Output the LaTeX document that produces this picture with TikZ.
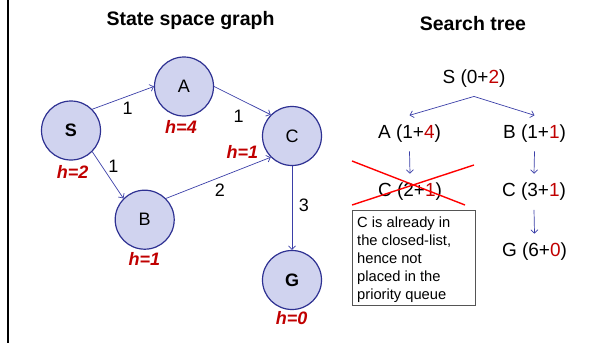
\documentclass[tikz,border=0pt]{standalone}
\usepackage{fontspec}
\setmainfont{Liberation Sans}
\usetikzlibrary{arrows.meta}
\definecolor{nodefill}{HTML}{D0D3EF}
\definecolor{nodeline}{HTML}{2E3192}
\definecolor{edgecol}{HTML}{3B3FA8}
\definecolor{hred}{HTML}{C00000}
\definecolor{boxgray}{HTML}{555555}
\begin{document}
\begin{tikzpicture}[x=1pt,y=-1pt,
  state/.style={circle, draw=nodeline, line width=1.2pt, fill=nodefill, minimum size=59pt, inner sep=0pt, font=\fontsize{18}{21}\selectfont},
  hlab/.style={text=hred, font=\fontsize{18}{21}\selectfont\bfseries\itshape, inner sep=0pt},
  elab/.style={font=\fontsize{18}{21}\selectfont, inner sep=0pt},
  edge/.style={draw=edgecol, line width=0.7pt, -{Straight Barb[length=3.5pt,width=7pt]}},
  titletext/.style={font=\fontsize{19.5}{23}\selectfont\bfseries, anchor=base, inner sep=0pt},
  treetext/.style={font=\fontsize{19}{23}\selectfont, anchor=base, inner xsep=0pt, inner ysep=9pt},
  cross/.style={draw=red, line width=1.4pt}
]
\useasboundingbox (0,0) rectangle (591,343);
\draw[line width=2.3pt] (7.8,0) -- (7.8,343);

% titles
\node[titletext] (t1) at (190.5,25.5) {State space graph};
\node[titletext] (t2) at (473,30.5) {Search tree};

% state space graph
\node[state] (S) at (71,130.5) {\bfseries S};
\node[state] (A) at (184,86.5) {A};
\node[state] (C) at (292,136) {C};
\node[state] (B) at (144.7,219.7) {B};
\node[state] (G) at (292,280) {\bfseries G};

\draw[edge] (S.45) -- (A.west);
\draw[edge] (A.east) -- (C.135);
\draw[edge] (S.-45) -- (B.135);
\draw[edge] (B.45) -- (C.-135);
\draw[edge] (C.south) -- (G.north);

\node[elab] (l1) at (127.7,108.3) {1};
\node[elab] (l2) at (238.7,116) {1};
\node[elab] (l3) at (113.3,166.7) {1};
\node[elab] (l4) at (220,190.7) {2};
\node[elab] (l5) at (304,205.5) {3};

\node[hlab] (hS) at (72.7,171.7) {h=2};
\node[hlab] (hA) at (181,126.7) {h=4};
\node[hlab] (hC) at (242.3,151.7) {h=1};
\node[hlab] (hB) at (144.3,259.3) {h=1};
\node[hlab] (hG) at (291.7,318.3) {h=0};

% search tree
\node[treetext] (tS) at (474,83.3) {S (0+\textcolor{hred}{2})};
\node[treetext] (tA) at (409.5,138.3) {A (1+\textcolor{hred}{4})};
\node[treetext] (tB) at (534.5,138.3) {B (1+\textcolor{hred}{1})};
\node[treetext] (tC1) at (410,196.7) {C (2+\textcolor{hred}{1})};
\node[treetext] (tC2) at (534,196.7) {C (3+\textcolor{hred}{1})};
\node[treetext] (tG) at (534.5,256.7) {G (6+\textcolor{hred}{0})};

\draw[edge] (tS.south) -- (tA.north);
\draw[edge] (tS.south) -- (tB.north);
\draw[edge] (tA.south) -- (tC1.north);
\draw[edge] (tB.south) -- (tC2.north);
\draw[edge] (tC2.south) -- (tG.north);

\draw[cross] (352,161) -- (465,205);
\draw[cross] (352,205) -- (474,165);

\node[draw=boxgray, line width=1.1pt, minimum width=123pt, minimum height=95pt, anchor=north west, inner sep=0pt] (note) at (352,210) {};
\node[anchor=north west, inner sep=0pt, align=left, font=\fontsize{14.7}{18}\selectfont] (notetext) at (357,216.5) {C is already in\\the closed-list,\\hence not\\placed in the\\priority queue};
\end{tikzpicture}
\end{document}
